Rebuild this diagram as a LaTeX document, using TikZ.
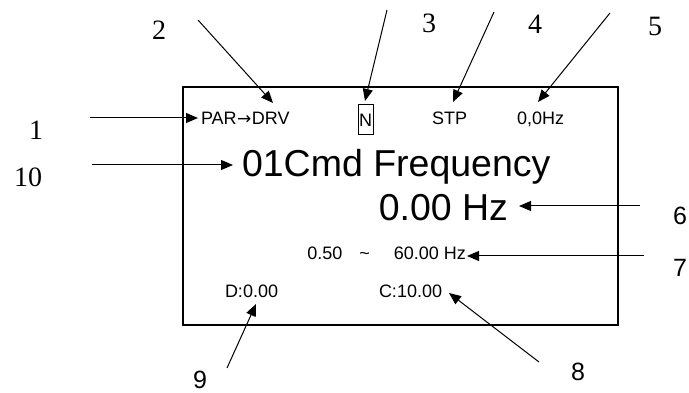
\documentclass[tikz,border=0pt]{standalone}
\usepackage{fontspec}
\setmainfont{Liberation Serif}
\setsansfont{Liberation Sans}
\newfontfamily\arrowfont{DejaVu Sans}
\usetikzlibrary{arrows.meta}
\tikzset{
  lcdtext/.style={inner sep=0pt, outer sep=0pt, font=\sffamily\fontsize{18}{20}\selectfont},
  bigtext/.style={inner sep=0pt, outer sep=0pt, font=\sffamily\fontsize{37.5}{40}\selectfont},
  seriflabel/.style={inner sep=0pt, font=\rmfamily\fontsize{28}{30}\selectfont},
  sanslabel/.style={inner sep=0pt, font=\sffamily\fontsize{25}{28}\selectfont},
  callout/.style={line width=1pt, -{Triangle[length=12pt,width=10pt]}},
}
\begin{document}
\begin{tikzpicture}[x=1pt,y=-1pt]
\useasboundingbox (0,0) rectangle (689,393);
% screen
\node (screen) [draw, line width=2pt, inner sep=0pt, outer sep=0pt, minimum width=435pt, minimum height=238pt] at (400.5,206) {};
% screen texts
\node (par) [lcdtext, anchor=base west] at (201,125) {PAR\hspace{0.5pt}{\arrowfont\fontsize{17}{18}\selectfont\raisebox{0.5pt}{→}}\hspace{0.5pt}DRV};
\node (nbox) [draw, line width=1pt, inner sep=0pt, minimum width=15pt, minimum height=30pt, font=\sffamily\fontsize{18}{20}\selectfont] at (365.5,120) {N};
\node (stp) [lcdtext, anchor=base west] at (432,125) {STP};
\node (hz) [lcdtext, anchor=base west] at (517,125) {0,0Hz};
\node (cmd) [bigtext, anchor=base west] at (242,177) {01Cmd Frequency};
\node (val) [bigtext, anchor=base east] at (508,221) {0.00 Hz};
\node (range) [lcdtext, anchor=base east] at (466,260) {0.50\hspace{17pt}\textasciitilde\hspace{24pt}60.00 Hz};
\node (dval) [lcdtext, anchor=base west] at (225,298) {D:0.00};
\node (cval) [lcdtext, anchor=base west] at (379,298) {C:10.00};
% labels
\node (l1) [seriflabel] at (36,130) {1};
\node (l2) [seriflabel] at (159,30) {2};
\node (l3) [seriflabel] at (429,23) {3};
\node (l4) [seriflabel] at (535,24) {4};
\node (l5) [seriflabel] at (655,26) {5};
\node (l10) [seriflabel] at (28,177) {10};
\node (l6) [sanslabel] at (680,216) {6};
\node (l7) [sanslabel] at (680,268) {7};
\node (l8) [sanslabel] at (578,372) {8};
\node (l9) [sanslabel] at (200,380) {9};
% callout ends
\coordinate (s1) at (90,118);   \coordinate (t1) at (198,118);
\coordinate (s10) at (92,165);  \coordinate (t10) at (233,165);
\coordinate (s2) at (198,20);   \coordinate (t2) at (273,103);
\coordinate (s3) at (387,10);   \coordinate (t3) at (365,101);
\coordinate (s4) at (494,12);   \coordinate (t4) at (453,102);
\coordinate (s5) at (610,13);   \coordinate (t5) at (538,102);
\coordinate (s6) at (640,206);  \coordinate (t6) at (519,206);
\coordinate (s7) at (644,256);  \coordinate (t7) at (467,256);
\coordinate (s8) at (539,362);  \coordinate (t8) at (449,293);
\coordinate (s9) at (227,368);  \coordinate (t9) at (256,304);
\foreach \i in {1,2,3,4,5,6,7,8,9,10} {\draw[callout] (s\i) -- (t\i);}
\end{tikzpicture}
\end{document}
